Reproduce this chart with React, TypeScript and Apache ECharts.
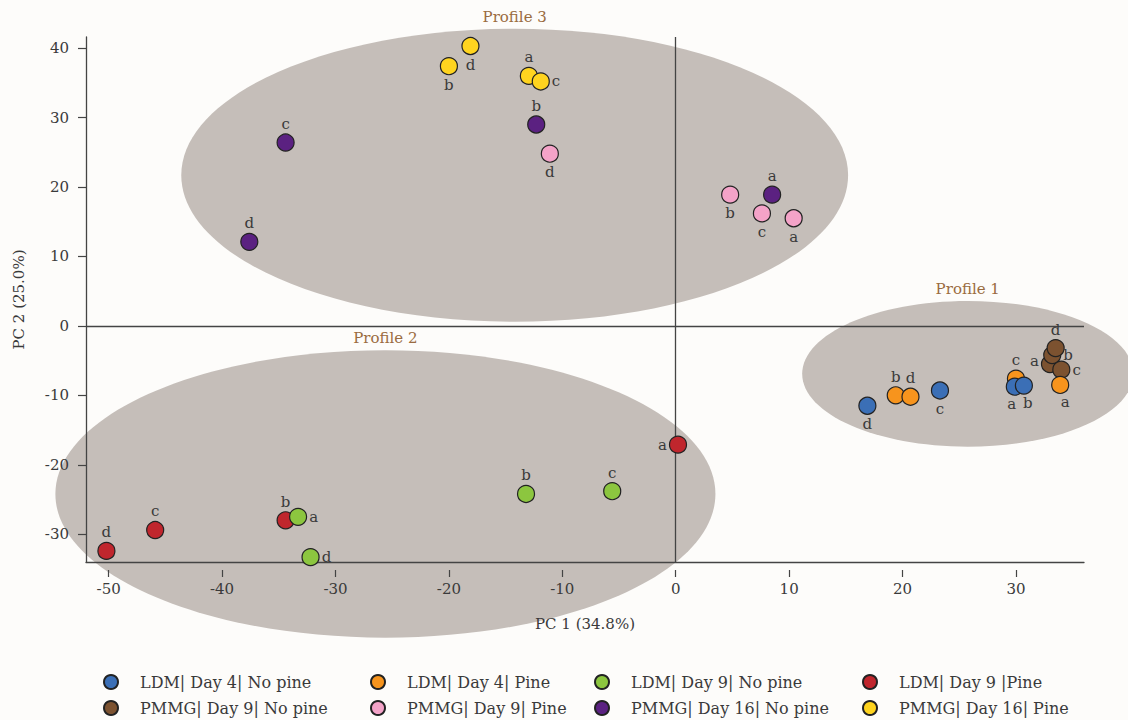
import React, { useEffect, useRef } from "react";
import * as echarts from "echarts";

// ---- axes ----
const xMin = -52;
const xMax = 36;
const yMin = -34;
const yMax = 41.6;
const xTicks = [-50, -40, -30, -20, -10, 0, 10, 20, 30];
const yTicks = [-30, -20, -10, 0, 10, 20, 30, 40];
const xName = "PC 1 (34.8%)";
const yName = "PC 2 (25.0%)";

// ---- sample letters (a, b, c, d for every group) ----
const letters = ["a", "b", "c", "d"];

// ---- series values [PC1, PC2] in order a, b, c, d ----
const ldmD4NoPine = [[29.9, -8.75], [30.7, -8.6], [23.3, -9.3], [16.9, -11.5]];
const ldmD4Pine = [[33.9, -8.5], [19.4, -10.0], [30.0, -7.6], [20.7, -10.2]];
const ldmD9NoPine = [[-33.3, -27.5], [-13.2, -24.2], [-5.6, -23.8], [-32.2, -33.3]];
const ldmD9Pine = [[0.2, -17.1], [-34.4, -28.0], [-45.9, -29.4], [-50.2, -32.4]];
const pmmgD9NoPine = [[33.0, -5.5], [33.2, -4.2], [34.0, -6.3], [33.5, -3.2]];
const pmmgD9Pine = [[10.4, 15.5], [4.8, 18.9], [7.6, 16.2], [-11.1, 24.8]];
const pmmgD16NoPine = [[8.5, 18.9], [-12.3, 29.0], [-34.4, 26.4], [-37.6, 12.1]];
const pmmgD16Pine = [[-12.95, 36.0], [-20.0, 37.4], [-11.9, 35.2], [-18.1, 40.3]];

// ---- group names ----
const groupNames = [
  "LDM| Day 4| No pine",
  "LDM| Day 4| Pine",
  "LDM| Day 9| No pine",
  "LDM| Day 9 |Pine",
  "PMMG| Day 9| No pine",
  "PMMG| Day 9| Pine",
  "PMMG| Day 16| No pine",
  "PMMG| Day 16| Pine",
];

// ---- profile ellipses [centerPC1, centerPC2, radiusPC1, radiusPC2] ----
const profileNames = ["Profile 1", "Profile 2", "Profile 3"];
const profileEllipses = [
  [25.75, -6.9, 14.6, 10.5],
  [-25.6, -24.2, 29.1, 20.7],
  [-14.2, 21.7, 29.4, 21.1],
];

// ---- styling (kept apart from the data) ----
const colors = ["#3b6fb6", "#f7941d", "#8cc63f", "#c0262d", "#7c5230", "#f4a3c8", "#5b2181", "#ffd41f"];
const labelPos: string[][] = [
  ["bottom", "bottom", "bottom", "bottom"],
  ["bottom", "top", "top", "top"],
  ["right", "top", "top", "right"],
  ["left", "top", "top", "top"],
  ["left", "right", "right", "top"],
  ["bottom", "bottom", "bottom", "bottom"],
  ["top", "top", "top", "top"],
  ["top", "bottom", "right", "bottom"],
];
// small label nudges (px) for crowded spots
const labelNudge: number[][][] = [
  [[-3, -1], [4, -1], [0, 0], [0, 0]],
  [[5, -2], [0, 0], [0, 0], [0, 0]],
  [[0, 0], [0, 0], [0, 0], [0, 0]],
  [[0, 0], [0, 0], [0, 0], [0, 0]],
  [[0, -3], [0, 0], [0, 0], [0, 0]],
  [[0, 0], [0, 0], [0, 0], [0, 0]],
  [[0, 0], [0, 0], [0, 0], [0, 0]],
  [[0, 0], [0, 0], [0, 0], [0, 0]],
];
const seriesValues = [ldmD4NoPine, ldmD4Pine, ldmD9NoPine, ldmD9Pine, pmmgD9NoPine, pmmgD9Pine, pmmgD16NoPine, pmmgD16Pine];
// draw order so that overlaps match the picture
const drawOrder = [4, 1, 0, 3, 2, 5, 6, 7];
// legend layout: icon centres
const legendX = [110, 377, 601, 869, 110, 377, 601, 869];
const legendY = [683, 683, 683, 683, 709, 709, 709, 709];

const FONT = "'DejaVu Serif', 'Liberation Serif', serif";
const TEXT = "#3a3a3a";
const AXIS = "#444";

export default function App() {
  const ref = useRef<HTMLDivElement>(null);

  useEffect(() => {
    if (!ref.current) return;
    const chart = echarts.init(ref.current, null, { renderer: "svg" });

    const scatterSeries = drawOrder.map((gi) => ({
      type: "scatter",
      name: groupNames[gi],
      xAxisIndex: 0,
      yAxisIndex: 0,
      symbol: "circle",
      symbolSize: 17,
      z: 5,
      itemStyle: { color: colors[gi], borderColor: "#222", borderWidth: 1.2, opacity: 1 },
      label: {
        show: true,
        fontFamily: FONT,
        fontSize: 15,
        color: TEXT,
        distance: 2,
        formatter: (p: any) => letters[p.dataIndex],
      },
      emphasis: { disabled: true },
      data: seriesValues[gi].map((v, i) => ({
        value: v,
        label: { position: labelPos[gi][i], offset: labelNudge[gi][i] },
      })),
    }));

    const ellipseSeries = {
      type: "custom",
      name: "profiles",
      xAxisIndex: 0,
      yAxisIndex: 0,
      clip: false,
      silent: true,
      z: 1,
      encode: { x: 0, y: 1 },
      renderItem: (params: any, api: any) => {
        const c = api.coord([api.value(0), api.value(1)]);
        const s = api.size([api.value(2), api.value(3)]);
        return {
          type: "group",
          children: [
            {
              type: "ellipse",
              shape: { cx: c[0], cy: c[1], rx: s[0], ry: s[1] },
              style: { fill: "#c5beb9" },
            },
            {
              type: "text",
              x: c[0],
              y: c[1] - s[1] - 12,
              style: {
                text: profileNames[params.dataIndex],
                fontFamily: FONT,
                fontSize: 15,
                fill: "#9a6b40",
                align: "center",
                verticalAlign: "middle",
              },
            },
          ],
        };
      },
      data: profileEllipses,
      markLine: {
        silent: true,
        symbol: ["none", "none"],
        label: { show: false },
        lineStyle: { color: AXIS, type: "solid", width: 1.3 },
        data: [{ xAxis: 0 }, { yAxis: 0 }],
        z: 2,
      },
    };

    const option: any = {
      animation: false,
      backgroundColor: "#fdfcfa",
      grid: { left: 86, right: 44, top: 37, bottom: 158, containLabel: false },
      xAxis: [
        {
          type: "value",
          min: xMin,
          max: xMax,
          position: "bottom",
          z: 3,
          name: xName,
          nameLocation: "middle",
          nameGap: 54,
          nameTextStyle: { fontFamily: FONT, fontSize: 15, color: TEXT },
          axisLine: { show: true, onZero: false, lineStyle: { color: AXIS, width: 1.3 } },
          axisTick: { show: false },
          axisLabel: { show: false },
          splitLine: { show: false },
        },
        {
          type: "value",
          min: xMin,
          max: xMax,
          position: "bottom",
          offset: 8,
          z: 3,
          axisLine: { show: false, onZero: false },
          axisTick: { show: true, length: 7, customValues: xTicks, lineStyle: { color: AXIS, width: 1.2 } },
          axisLabel: {
            show: true,
            customValues: xTicks,
            margin: 11,
            fontFamily: FONT,
            fontSize: 15,
            color: TEXT,
          },
          splitLine: { show: false },
        },
      ],
      yAxis: [
        {
          type: "value",
          min: yMin,
          max: yMax,
          z: 3,
          name: yName,
          nameLocation: "middle",
          nameGap: 60,
          nameTextStyle: { fontFamily: FONT, fontSize: 15, color: TEXT },
          axisLine: { show: true, onZero: false, lineStyle: { color: AXIS, width: 1.3 } },
          axisTick: { show: true, length: 8, customValues: yTicks, lineStyle: { color: AXIS, width: 1.2 } },
          axisLabel: {
            show: true,
            customValues: yTicks,
            margin: 17,
            fontFamily: FONT,
            fontSize: 15,
            color: TEXT,
          },
          splitLine: { show: false },
        },
      ],
      legend: groupNames.map((name, gi) => ({
        show: true,
        orient: "horizontal",
        left: legendX[gi] - 7,
        top: legendY[gi] - 9,
        padding: 0,
        itemWidth: 14,
        itemHeight: 14,
        icon: "circle",
        selectedMode: false,
        textStyle: { fontFamily: FONT, fontSize: 16, color: TEXT, padding: [0, 0, 0, 17] },
        data: [name],
      })),
      series: [ellipseSeries, ...scatterSeries],
    };

    chart.setOption(option);
    return () => chart.dispose();
  }, []);

  return (
    <div
      ref={ref}
      style={{ position: "fixed", left: 0, top: 0, width: 1128, height: 720 }}
    />
  );
}
